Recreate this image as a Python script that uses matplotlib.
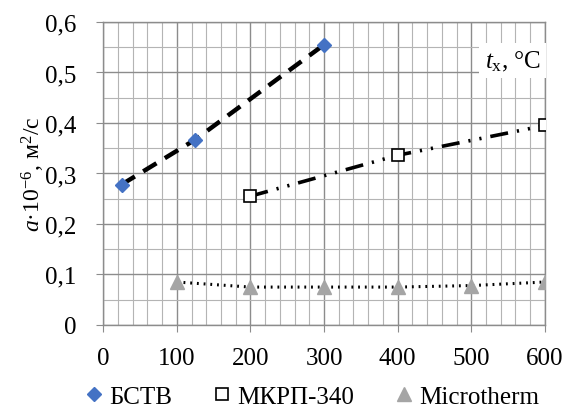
import numpy as np
import matplotlib
matplotlib.use("Agg")
import matplotlib.pyplot as plt
from matplotlib.ticker import MultipleLocator

plt.rcParams['font.family'] = ['Liberation Serif', 'DejaVu Serif']
plt.rcParams['mathtext.fontset'] = 'custom'
plt.rcParams['mathtext.rm'] = 'Liberation Serif'
plt.rcParams['mathtext.it'] = 'Liberation Serif:italic'

# data
bstv_x = [25, 125, 300]
bstv_y = [0.278, 0.367, 0.555]
mkrp_x = [200, 400, 600]
mkrp_y = [0.255, 0.336, 0.395]
micro_x = [100, 200, 300, 400, 500, 600]
micro_y = [0.085, 0.075, 0.075, 0.075, 0.078, 0.085]

x_ticks = [0, 100, 200, 300, 400, 500, 600]
y_ticks = [0, 0.1, 0.2, 0.3, 0.4, 0.5, 0.6]
y_labels = ["0", "0,1", "0,2", "0,3", "0,4", "0,5", "0,6"]

fig = plt.figure(figsize=(5.7, 4.1), dpi=100)
ax = fig.add_axes([0.181, 0.205, 0.775, 0.739])

# trend lines
ax.plot(bstv_x, bstv_y, color='black', lw=3.2, ls=(0, (3.5, 2.2)), zorder=3)
ax.plot(mkrp_x, mkrp_y, color='black', lw=2.6, ls=(0, (5, 2.5, 0.6, 2.5, 0.6, 2.5)), zorder=3)
ax.plot(micro_x, micro_y, color='black', lw=2.2, ls=(0, (0.6, 1.6)), zorder=3)

# markers
ax.plot(bstv_x, bstv_y, ls='none', marker='D', ms=7, color='#4472C4', zorder=4, label='БСТВ')
ax.plot(mkrp_x, mkrp_y, ls='none', marker='s', ms=9, mfc='white', mec='black', mew=1.2, zorder=4, label='МКРП-340')
ax.plot(micro_x, micro_y, ls='none', marker='^', ms=10, color='#A5A5A5', zorder=4, label='Microtherm')

ax.set_xlim(0, 600)
ax.set_ylim(0, 0.6)
ax.set_xticks(x_ticks)
ax.set_xticklabels([str(v) for v in x_ticks])
ax.set_yticks(y_ticks)
ax.set_yticklabels(y_labels)
ax.xaxis.set_minor_locator(MultipleLocator(20))
ax.yaxis.set_minor_locator(MultipleLocator(0.05))

ax.grid(which='major', color='#8c8c8c', lw=1.0, zorder=0)
ax.grid(which='minor', color='#b4b4b4', lw=0.8, zorder=0)
ax.set_axisbelow(True)
for s in ax.spines.values():
    s.set_color('#8c8c8c')
    s.set_linewidth(1.0)

ax.tick_params(axis='x', which='major', length=5, color='#8c8c8c', labelsize=18, pad=11)
ax.tick_params(axis='y', which='major', length=5, color='#8c8c8c', labelsize=18, pad=14)
ax.tick_params(which='minor', length=0)

ax.set_ylabel(r"$a$·10$^{-6}$, м$^2$/с", fontsize=17)
ax.yaxis.set_label_coords(-0.128, 0.5)

ax.text(556, 0.523, r"$t_{\mathrm{x}}$, °C", fontsize=18, ha='center', va='center',
        bbox=dict(facecolor='white', edgecolor='none', pad=4), zorder=5)

fig.legend(loc='center', bbox_to_anchor=(0.545, 0.03), ncol=3, frameon=False,
           fontsize=18, handletextpad=0.1, columnspacing=1.5, handlelength=1.0)

fig.savefig('out.png', dpi=100)
